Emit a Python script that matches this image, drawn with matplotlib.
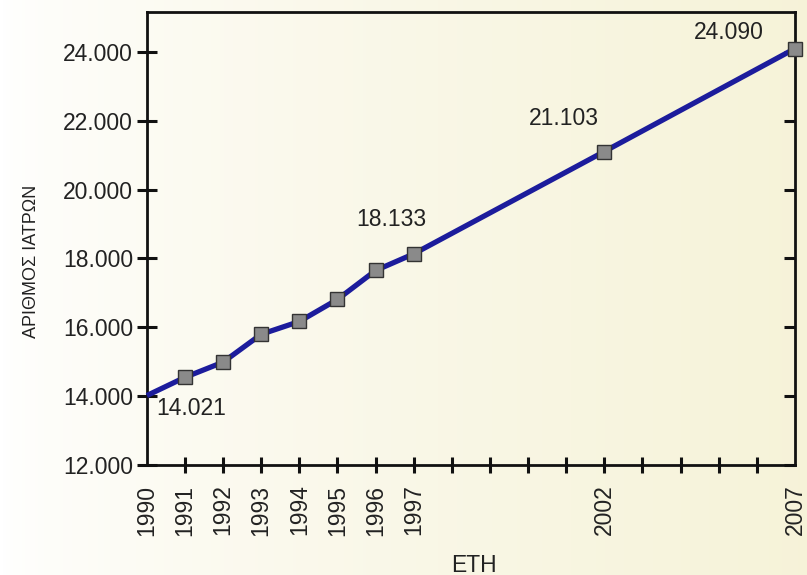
import matplotlib
matplotlib.use("Agg")
import matplotlib.pyplot as plt
import numpy as np
from matplotlib import font_manager

# Number of physicians per year
years = [1990, 1991, 1992, 1993, 1994, 1995, 1996, 1997, 2002, 2007]
doctors = [14021, 14550, 14990, 15800, 16170, 16810, 17650, 18133, 21103, 24090]

labelled_years = [1990, 1991, 1992, 1993, 1994, 1995, 1996, 1997, 2002, 2007]
ytick_values = [12000, 14000, 16000, 18000, 20000, 22000, 24000]
value_labels = {1990: 14021, 1997: 18133, 2002: 21103, 2007: 24090}

names = {f.name for f in font_manager.fontManager.ttflist}
narrow = "Liberation Sans Narrow" if "Liberation Sans Narrow" in names else "Liberation Sans"
plt.rcParams["font.family"] = ["Liberation Sans", "DejaVu Sans"]


def fmt(v):
    return f"{v:,}".replace(",", ".")


fig = plt.figure(figsize=(8.07, 5.75), dpi=100)

# soft white-to-cream backdrop
bg = fig.add_axes([0, 0, 1, 1], zorder=-10)
grad = np.linspace(0, 1, 256) ** 0.7
c0 = np.array([1.0, 1.0, 1.0])
c1 = np.array([0.965, 0.952, 0.85])
img = c0[None, :] * (1 - grad[:, None]) + c1[None, :] * grad[:, None]
bg.imshow(img[None, :, :], aspect="auto", extent=[0, 1, 0, 1])
bg.set_axis_off()

ax = fig.add_axes([0.182, 0.191, 0.803, 0.788])
ax.patch.set_alpha(0)

ax.plot(years, doctors, color="#1c1c9c", lw=3.8, zorder=3, clip_on=False,
        solid_capstyle="butt")
ax.plot(years[1:], doctors[1:], ls="none", marker="s", ms=10.5,
        mfc="#8a8a8a", mec="#333333", mew=1.0, zorder=4, clip_on=False)

ax.set_xlim(1990, 2007)
ax.set_ylim(12000, 25150)

ax.set_xticks(range(1990, 2008))
ax.set_xticklabels([str(y) if y in labelled_years else "" for y in range(1990, 2008)],
                   rotation=90, fontsize=16.5, family=narrow, color="#222222")
ax.set_yticks(ytick_values)
ax.set_yticklabels([fmt(v) for v in ytick_values], fontsize=16.5, color="#222222")

ax.tick_params(axis="x", direction="inout", length=12, width=2.2, pad=8, color="#111111")
ax.tick_params(axis="y", direction="inout", length=14, width=2.2, pad=3, color="#111111")
# the corner years carry a label but no tick mark
xticks = ax.xaxis.get_major_ticks()
for t in (xticks[0], xticks[-1]):
    t.tick1line.set_visible(False)
for s in ax.spines.values():
    s.set_linewidth(2.0)
    s.set_color("#111111")

# inward ticks along the right edge
sec = ax.secondary_yaxis("right")
sec.set_yticks(ytick_values)
sec.set_yticklabels([])
sec.tick_params(direction="in", length=8, width=2.2, color="#111111")
sec.spines["right"].set_visible(False)

ax.set_ylabel("ΑΡΙΘΜΟΣ ΙΑΤΡΩΝ", fontsize=13, family=narrow, color="#222222")
ax.yaxis.set_label_coords(-0.165, 0.45)
ax.set_xlabel("ΕΤΗ", fontsize=16.5, family=narrow, color="#222222")
ax.xaxis.set_label_coords(0.505, -0.195)

offsets = {1990: (1.15, -390), 1997: (-0.58, 1000),
           2002: (-1.05, 970), 2007: (-1.73, 480)}
for yr, val in value_labels.items():
    dx, dy = offsets[yr]
    ax.text(yr + dx, val + dy, fmt(val), fontsize=16.5, ha="center", va="center",
            color="#222222")

fig.savefig("out.png", dpi=100)
